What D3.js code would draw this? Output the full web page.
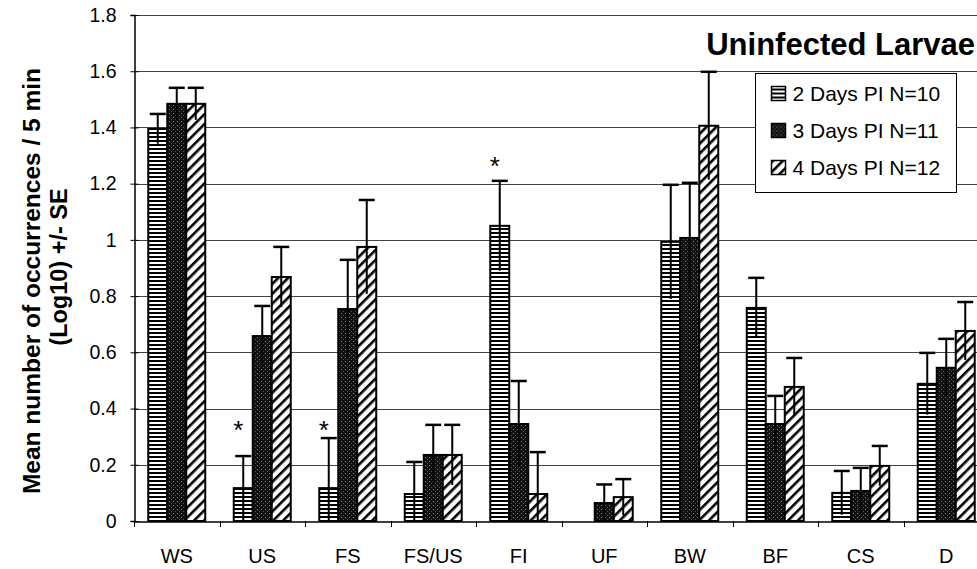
<!DOCTYPE html>
<html>
<head>
<meta charset="utf-8">
<script src="https://cdn.jsdelivr.net/npm/d3@7"></script>
<style>
  body { margin: 0; background: #fff; }
  svg { display: block; font-family: Arial, "Liberation Sans", sans-serif; }
</style>
</head>
<body>
<div id="chart"></div>
<script>
// behaviours on the x axis
const categories = ['WS', 'US', 'FS', 'FS/US', 'FI', 'UF', 'BW', 'BF', 'CS', 'D'];
const seriesNames = ['2 Days PI N=10', '3 Days PI N=11', '4 Days PI N=12'];

// means (log10) per series
const day2Means = [1.395, 0.117, 0.117, 0.096, 1.05, 0, 0.993, 0.758, 0.10, 0.488];
const day3Means = [1.484, 0.658, 0.754, 0.235, 0.345, 0.064, 1.007, 0.345, 0.107, 0.545];
const day4Means = [1.484, 0.868, 0.975, 0.235, 0.096, 0.085, 1.406, 0.477, 0.196, 0.676];

// standard errors per series
const day2SE = [0.053, 0.114, 0.178, 0.114, 0.16, 0, 0.203, 0.107, 0.078, 0.11];
const day3SE = [0.057, 0.107, 0.175, 0.107, 0.153, 0.066, 0.196, 0.10, 0.082, 0.103];
const day4SE = [0.057, 0.107, 0.167, 0.107, 0.149, 0.064, 0.192, 0.103, 0.071, 0.103];

// asterisks over the 2 days PI bar, with the value level they sit at
const starCats = ['US', 'FS', 'FI'];
const starLevels = [0.335, 0.335, 1.274];

const yTicks = [0, 0.2, 0.4, 0.6, 0.8, 1, 1.2, 1.4, 1.6, 1.8];

const width = 977;
const height = 569;
const plotLeft = 134;
const plotBottom = 521;
const plotTop = 15;
const step = 85.5;

const svg = d3.select('#chart')
  .append('svg')
  .attr('width', width)
  .attr('height', height);

// fill patterns
const defs = svg.append('defs');

const pH = defs.append('pattern')
  .attr('id', 'pat-h')
  .attr('patternUnits', 'userSpaceOnUse')
  .attr('width', 8).attr('height', 4);
pH.append('rect').attr('width', 8).attr('height', 4).attr('fill', '#fff');
pH.append('rect').attr('y', 0).attr('width', 8).attr('height', 2).attr('fill', '#000');

const pD = defs.append('pattern')
  .attr('id', 'pat-d')
  .attr('patternUnits', 'userSpaceOnUse')
  .attr('width', 4).attr('height', 4);
pD.append('rect').attr('width', 4).attr('height', 4).attr('fill', '#111');
pD.append('rect').attr('x', 1).attr('y', 1).attr('width', 1).attr('height', 1).attr('fill', '#888');
pD.append('rect').attr('x', 3).attr('y', 3).attr('width', 1).attr('height', 1).attr('fill', '#555');

const pS = defs.append('pattern')
  .attr('id', 'pat-s')
  .attr('patternUnits', 'userSpaceOnUse')
  .attr('width', 7).attr('height', 7)
  .attr('patternTransform', 'rotate(45)');
pS.append('rect').attr('width', 7).attr('height', 7).attr('fill', '#fff');
pS.append('rect').attr('x', 0).attr('width', 2.6).attr('height', 7).attr('fill', '#000');

const fills = ['url(#pat-h)', 'url(#pat-d)', 'url(#pat-s)'];

const x = d3.scaleBand()
  .domain(categories)
  .range([plotLeft, plotLeft + step * categories.length])
  .paddingInner(0)
  .paddingOuter(0);

const xs = d3.scaleBand()
  .domain(d3.range(3))
  .range([-28.5, 28.5])
  .padding(0);

const y = d3.scaleLinear().domain([0, 1.8]).range([plotBottom, plotTop]);

// grid lines
svg.append('g')
  .selectAll('line')
  .data(yTicks.filter(d => d > 0))
  .enter()
  .append('line')
  .attr('x1', plotLeft)
  .attr('x2', width)
  .attr('y1', d => Math.round(y(d)) + 0.5)
  .attr('y2', d => Math.round(y(d)) + 0.5)
  .attr('stroke', '#444')
  .attr('stroke-width', 1);

// y axis, ticks cross the axis line
const yAxis = d3.axisLeft(y)
  .tickValues(yTicks)
  .tickFormat(d => d3.format('')(d))
  .tickSize(4)
  .tickPadding(14);

svg.append('g')
  .attr('transform', `translate(${plotLeft + 0.5},0)`)
  .call(yAxis)
  .call(g => g.select('.domain').attr('stroke', '#000').attr('stroke-width', 1.5))
  .call(g => g.selectAll('.tick line').attr('x1', 4).attr('stroke', '#000'))
  .call(g => g.selectAll('.tick text')
    .attr('font-size', 19.5)
    .attr('fill', '#000'));

// x axis, ticks sit on category boundaries
const xAxis = d3.axisBottom(x)
  .tickSize(0)
  .tickPadding(27);

svg.append('g')
  .attr('transform', `translate(0,${plotBottom + 0.5})`)
  .call(xAxis)
  .call(g => g.select('.domain').attr('stroke', '#000').attr('stroke-width', 1.5))
  .call(g => g.selectAll('.tick text')
    .attr('font-size', 20)
    .attr('fill', '#000'));

svg.append('g')
  .selectAll('line')
  .data(categories)
  .enter()
  .append('line')
  .attr('x1', d => Math.round(x(d)) + 0.5)
  .attr('x2', d => Math.round(x(d)) + 0.5)
  .attr('y1', plotBottom)
  .attr('y2', plotBottom + 6)
  .attr('stroke', '#000');

// bars
const means = [day2Means, day3Means, day4Means];
const ses = [day2SE, day3SE, day4SE];

const barData = [];
categories.forEach((c, i) => {
  for (let s = 0; s < 3; s++) {
    barData.push({ cat: c, s, v: means[s][i], se: ses[s][i] });
  }
});

const bx = d => x(d.cat) + x.bandwidth() / 2 + xs(d.s);

svg.append('g')
  .selectAll('rect')
  .data(barData.filter(d => d.v > 0))
  .enter()
  .append('rect')
  .attr('x', d => bx(d))
  .attr('y', d => y(d.v))
  .attr('width', xs.bandwidth())
  .attr('height', d => y(0) - y(d.v))
  .attr('fill', d => fills[d.s])
  .attr('stroke', '#000')
  .attr('stroke-width', 2);

// error bars
const errG = svg.append('g')
  .selectAll('g')
  .data(barData.filter(d => d.se > 0))
  .enter()
  .append('g');

errG.append('line')
  .attr('x1', d => bx(d) + xs.bandwidth() / 2)
  .attr('x2', d => bx(d) + xs.bandwidth() / 2)
  .attr('y1', d => y(Math.max(0, d.v - d.se)))
  .attr('y2', d => y(d.v + d.se))
  .attr('stroke', '#000')
  .attr('stroke-width', 2);

errG.append('line')
  .attr('x1', d => bx(d) + xs.bandwidth() / 2 - 8)
  .attr('x2', d => bx(d) + xs.bandwidth() / 2 + 8)
  .attr('y1', d => y(d.v + d.se))
  .attr('y2', d => y(d.v + d.se))
  .attr('stroke', '#000')
  .attr('stroke-width', 2.5);

// asterisks
svg.append('g')
  .selectAll('text')
  .data(starCats.map((c, i) => ({ cat: c, s: 0, level: starLevels[i] })))
  .enter()
  .append('text')
  .attr('x', d => bx(d) + xs.bandwidth() / 2 - 5)
  .attr('y', d => y(d.level) + 12)
  .attr('text-anchor', 'middle')
  .attr('font-size', 26)
  .text('*');

// y axis title
svg.append('text')
  .attr('transform', 'translate(40,281) rotate(-90)')
  .attr('text-anchor', 'middle')
  .attr('font-size', 24.5)
  .attr('font-weight', 'bold')
  .text('Mean number of occurrences / 5 min');

svg.append('text')
  .attr('transform', 'translate(67,267) rotate(-90)')
  .attr('text-anchor', 'middle')
  .attr('font-size', 23.5)
  .attr('font-weight', 'bold')
  .text('(Log10) +/- SE');

// chart title
svg.append('text')
  .attr('x', 975)
  .attr('y', 55)
  .attr('text-anchor', 'end')
  .attr('font-size', 31)
  .attr('font-weight', 'bold')
  .text('Uninfected Larvae');

// legend
const legend = svg.append('g').attr('transform', 'translate(755.5,73.5)');
legend.append('rect')
  .attr('width', 201)
  .attr('height', 119)
  .attr('fill', '#fff')
  .attr('stroke', '#000')
  .attr('stroke-width', 1);

const items = legend.selectAll('.legend-item')
  .data(seriesNames)
  .enter()
  .append('g')
  .attr('class', 'legend-item')
  .attr('transform', (d, i) => `translate(0,${19 + i * 37})`);

items.append('rect')
  .attr('x', 16)
  .attr('y', -6)
  .attr('width', 14)
  .attr('height', 14)
  .attr('fill', (d, i) => fills[i])
  .attr('stroke', '#000')
  .attr('stroke-width', 1.5);

items.append('text')
  .attr('x', 37)
  .attr('y', 1)
  .attr('dy', '0.35em')
  .attr('font-size', 21)
  .text(d => d);
</script>
</body>
</html>
